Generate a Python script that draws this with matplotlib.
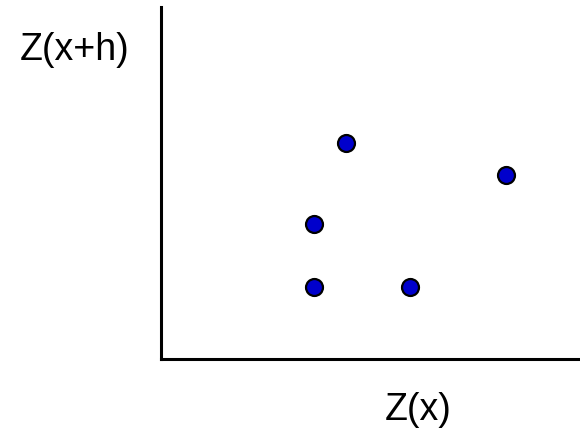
import matplotlib
matplotlib.use('Agg')
import matplotlib.pyplot as plt

plt.rcParams['font.family'] = ['Liberation Sans', 'DejaVu Sans']

# h-scatter pairs: Z(x) on the horizontal, Z(x+h) on the vertical
zx = [4.41, 8.23, 3.64, 3.64, 5.94]
zxh = [6.14, 5.23, 3.84, 2.05, 2.05]

fig = plt.figure(figsize=(5.8, 4.36), dpi=100)
ax = fig.add_axes([161.5 / 580, 77 / 436, 418.5 / 580, 352 / 436])
ax.plot(zx, zxh, 'o', ms=12.2, mfc='#0000CC', mec='black', mew=1.6, clip_on=False)
ax.set_xlim(0, 10)
ax.set_ylim(0, 10)
for s in ('top', 'right'):
    ax.spines[s].set_visible(False)
for s in ('left', 'bottom'):
    ax.spines[s].set_linewidth(2.2)
ax.set_xticks([])
ax.set_yticks([])

fig.text(75 / 580, 1 - 50 / 436, 'Z(x+h)', fontsize=27, ha='center', va='center')
fig.text(418 / 580, 1 - 410 / 436, 'Z(x)', fontsize=27, ha='center', va='center')

fig.savefig('out.png', dpi=100)
